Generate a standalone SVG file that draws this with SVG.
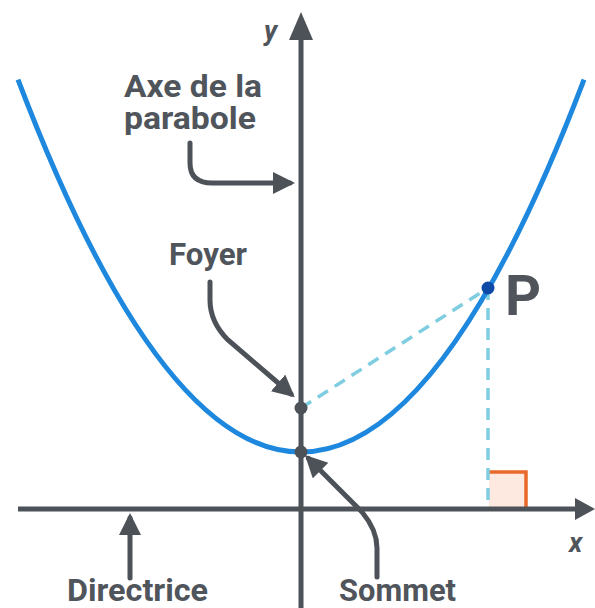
<svg xmlns="http://www.w3.org/2000/svg" width="595" height="608" viewBox="0 0 595 608">
<style>
.lbl{font-family:Roboto,"Liberation Sans",sans-serif;font-weight:bold;fill:#50555c}
.ax{stroke:#4d5259;stroke-width:5;fill:none}
.arr{stroke:#4d5259;stroke-width:5;fill:none;stroke-linecap:round}
.dash{stroke:#7fcde0;stroke-width:3.5;stroke-dasharray:12,8;fill:none}
</style>
<defs>
<marker id="ah" markerUnits="userSpaceOnUse" markerWidth="26" markerHeight="24" refX="17" refY="11" orient="auto">
<path d="M0,0 L22,11 L0,22 Z" fill="#4d5259"/>
</marker>
</defs>
<rect width="595" height="608" fill="#ffffff"/>
<g id="right-angle">
<rect x="489" y="472" width="37" height="37" fill="#fde9df"/>
<path d="M489,472 H526 V509" stroke="#e8692a" stroke-width="3.5" fill="none"/>
</g>
<g id="connectors">
<line class="dash" x1="301" y1="408" x2="488" y2="288"/>
<line class="dash" x1="488" y1="288" x2="488" y2="509"/>
<path class="arr" d="M190,143 V163 Q190,183 212,183 H290" marker-end="url(#ah)"/>
<path class="arr" d="M210,282 V300 Q210,322 228,340 L291,394" marker-end="url(#ah)"/>
<path class="arr" d="M377,577 V548 Q377,530 362,512 L308.5,458.5" marker-end="url(#ah)"/>
<line class="arr" x1="130" y1="578" x2="130" y2="518" marker-end="url(#ah)"/>
</g>
<g id="axes">
<line class="ax" x1="301" y1="608" x2="301" y2="36"/>
<path d="M301,12 L313,40 L289,40 Z" fill="#4d5259"/>
<line class="ax" x1="18" y1="509" x2="577" y2="509"/>
<path d="M595,509 L575,498 L575,520 Z" fill="#4d5259"/>
</g>
<g id="parabola">
<path d="M18,79.6 Q301,824.5 584,79.6" stroke="#1e88de" stroke-width="5" fill="none"/>
</g>
<g id="foyer-point"><circle cx="301" cy="408" r="6.5" fill="#4d5259"/></g>
<g id="sommet-point"><circle cx="301" cy="452" r="6.5" fill="#4d5259"/></g>
<g id="P"><circle cx="488" cy="288" r="6.5" fill="#0d4aa8"/>
<text class="lbl" x="505" y="315" font-size="56">P</text></g>
<g id="labels">
<text class="lbl" x="264" y="40" font-size="27" font-style="italic">y</text>
<text class="lbl" x="569" y="552" font-size="27" font-style="italic">x</text>
<text class="lbl" x="124" y="97" font-size="32" textLength="138" lengthAdjust="spacingAndGlyphs">Axe de la</text>
<text class="lbl" x="124" y="129" font-size="32" textLength="132" lengthAdjust="spacingAndGlyphs">parabole</text>
<text class="lbl" x="169" y="265" font-size="32" textLength="78" lengthAdjust="spacingAndGlyphs">Foyer</text>
<text class="lbl" x="67" y="601" font-size="31" textLength="141" lengthAdjust="spacingAndGlyphs">Directrice</text>
<text class="lbl" x="339" y="601" font-size="31" textLength="117" lengthAdjust="spacingAndGlyphs">Sommet</text>
</g>
</svg>
